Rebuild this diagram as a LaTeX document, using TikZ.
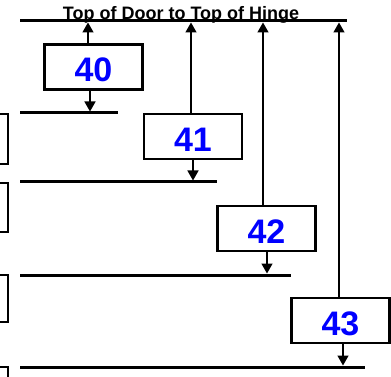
\documentclass[tikz,border=0pt]{standalone}
\usepackage{fontspec}
\setmainfont{Liberation Sans}
\usetikzlibrary{arrows.meta,positioning}
\newdimen\hdim
\newdimen\wdim
\hdim=45pt
\wdim=98pt
\tikzstyle{element}=[
  draw=black,
  font={\fontsize{34}{34}\selectfont\bfseries},
  inner sep=0pt,
  line width=2.5pt,
  minimum height=\hdim,
  minimum width=\wdim,
  outer sep=0pt,
  rectangle,
  text height=30pt,
  text=blue,
]
\tikzstyle{arrow}=[
  draw=black,
  line width=1.5pt,
]
\tikzstyle{level}=[
  draw=black,
  line width=3pt,
]
\tikzstyle{stub}=[
  draw=black,
  line width=2pt,
]
\tikzstyle{caption}=[
  anchor=base,
  font={\fontsize{18}{18}\selectfont\bfseries},
  inner sep=0pt,
]
\tikzset{
  >={Triangle[width=11pt,length=10pt]},
}

\begin{document}
\begin{tikzpicture}[x=1pt,y=-1pt]
    \useasboundingbox (0,0) rectangle (391,377);
    % top reference line
    \draw [level] (20,21) -- (347,21);
    \node (title) [caption] at (181,20) {Top of Door to Top of Hinge};
    % boxes
    \node (h40) [element] at (93.5,67) {40};
    \node (h41) [element] at (193,136.5) {41};
    \node (h42) [element] at (266.5,228.5) {42};
    \node (h43) [element] at (340.5,320.5) {43};
    % levels
    \draw [level] (20,113) -- (118,113);
    \draw [level] (20,182) -- (217,182);
    \draw [level] (20,275) -- (291,275);
    \draw [level] (20,367) -- (365,367);
    % arrow ends
    \coordinate (t40) at (88,22.5);
    \coordinate (t41) at (191,22.5);
    \coordinate (t42) at (263,22.5);
    \coordinate (t43) at (339,22.5);
    \coordinate (b40) at (90,111.5);
    \coordinate (b41) at (193,180.5);
    \coordinate (b42) at (267,273.5);
    \coordinate (b43) at (343,365.5);
    \draw [->, arrow] (h40.north -| t40) -- (t40);
    \draw [->, arrow] (h41.north -| t41) -- (t41);
    \draw [->, arrow] (h42.north -| t42) -- (t42);
    \draw [->, arrow] (h43.north -| t43) -- (t43);
    \draw [->, arrow] (h40.south -| b40) -- (b40);
    \draw [->, arrow] (h41.south -| b41) -- (b41);
    \draw [->, arrow] (h42.south -| b42) -- (b42);
    \draw [->, arrow] (h43.south -| b43) -- (b43);
    % cut-off boxes at the left
    \draw [stub] (-5,114) -- (8,114) -- (8,164) -- (-5,164);
    \draw [stub] (-5,183) -- (8,183) -- (8,232) -- (-5,232);
    \draw [stub] (-5,275) -- (8,275) -- (8,322) -- (-5,322);
    \draw [stub] (-5,367) -- (8,367) -- (8,385);
  \end{tikzpicture}
\end{document}
